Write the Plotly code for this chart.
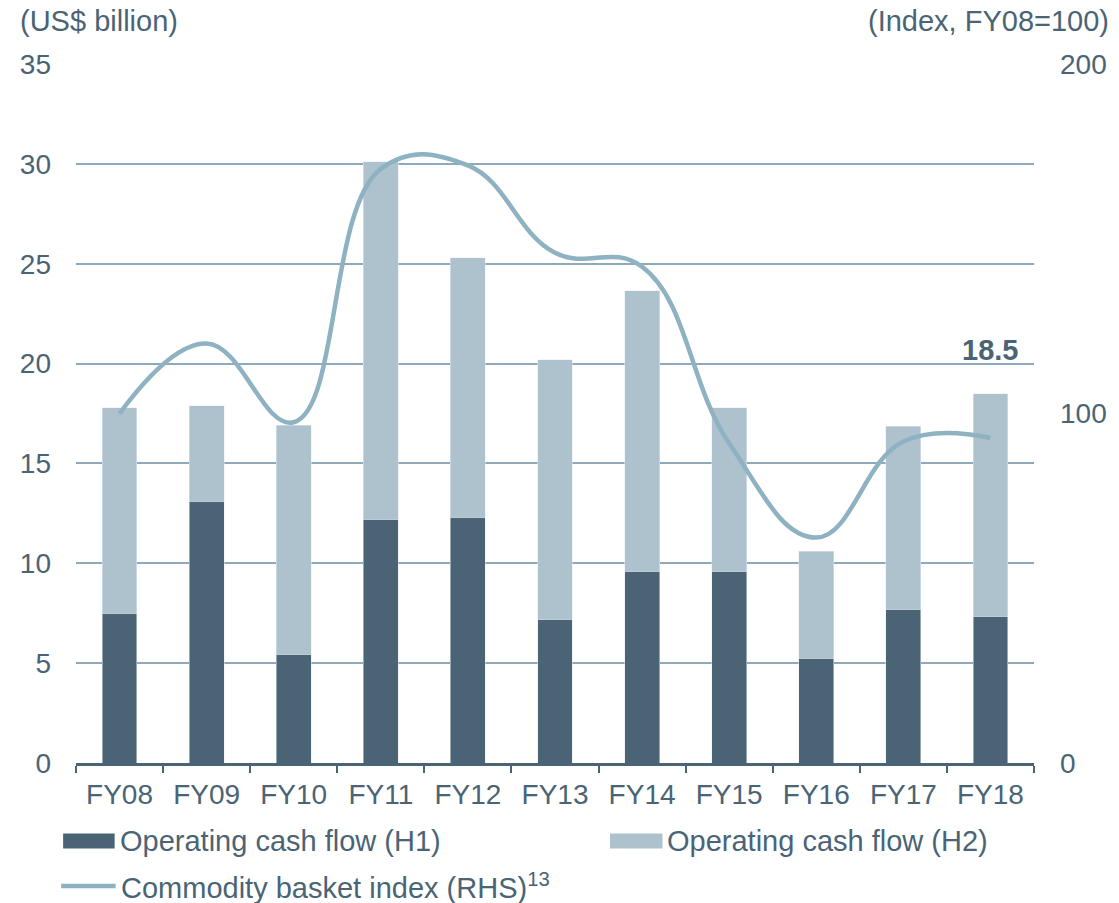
import plotly.graph_objects as go

# halaman HTML menambah margin body 8px, jadi koordinat referensi digeser
OFF = 8
W, H = 1119 - OFF, 903 - OFF
L, R, T, B = 70, 1037, 64, 763  # area plot (piksel referensi)

TAHUN = ["FY08", "FY09", "FY10", "FY11", "FY12", "FY13", "FY14", "FY15", "FY16", "FY17", "FY18"]
OCF_H1 = [7.5, 13.1, 5.45, 12.2, 12.3, 7.2, 9.6, 9.6, 5.25, 7.7, 7.35]
OCF_TOTAL = [17.8, 17.9, 16.9, 30.1, 25.3, 20.2, 23.65, 17.8, 10.6, 16.85, 18.5]
OCF_H2 = [round(t - h, 2) for t, h in zip(OCF_TOTAL, OCF_H1)]
INDEKS = [100, 120, 97.5, 170, 171, 146, 142, 91.5, 64.5, 92, 93]

GELAP = "#4a6475"
TERANG = "#aec2ce"
GARIS = "#8fb2c2"
GRID = "#8ea9b9"
TEKS = "#4a6475"
FONT = "Arial, Liberation Sans, sans-serif"
FS_TICK = 28
FS = 29


def px_x(x):
    return (x - L) / (R - L)


def px_y(y):
    return (B - y) / (B - T)


fig = go.Figure()
fig.add_trace(go.Bar(x=TAHUN, y=OCF_H1, marker_color=GELAP, width=0.4, name="Operating cash flow (H1)"))
fig.add_trace(go.Bar(x=TAHUN, y=OCF_H2, marker_color=TERANG, width=0.4, name="Operating cash flow (H2)"))
fig.add_trace(go.Scatter(
    x=TAHUN, y=INDEKS, yaxis="y2", mode="lines",
    line=dict(color=GARIS, width=4.5, shape="spline", smoothing=1.2),
    name="Commodity basket index (RHS)",
))

fig.update_layout(
    width=W, height=H, barmode="stack", showlegend=False,
    margin=dict(l=L - OFF, r=W - (R - OFF), t=T - OFF, b=H - (B - OFF)),
    paper_bgcolor="white", plot_bgcolor="white",
    font=dict(family=FONT, size=FS_TICK, color=TEKS),
    xaxis=dict(
        showline=True, linecolor=GELAP, linewidth=2.5, ticks="outside", tickson="boundaries",
        ticklen=7, tickwidth=2, tickcolor=GELAP, showgrid=False, ticklabelstandoff=5,
        tickfont=dict(size=FS_TICK, color=TEKS),
    ),
    yaxis=dict(
        range=[0, 35], dtick=5, showgrid=True, gridcolor=GRID, gridwidth=1.5, zeroline=False,
        showline=False, ticks="", ticklabelstandoff=24, tickfont=dict(size=FS_TICK, color=TEKS),
    ),
    yaxis2=dict(
        range=[0, 200], dtick=100, overlaying="y", side="right", showgrid=False, zeroline=False,
        showline=False, ticks="", ticklabelstandoff=25, tickfont=dict(size=FS_TICK, color=TEKS),
    ),
)

# judul sumbu
fig.add_annotation(text="(US$ billion)", xref="paper", yref="paper", x=px_x(12), y=px_y(21),
                   xanchor="left", yanchor="middle", showarrow=False, borderpad=0,
                   font=dict(size=FS, color=TEKS))
fig.add_annotation(text="(Index, FY08=100)", xref="paper", yref="paper", x=px_x(1114), y=px_y(21),
                   xanchor="right", yanchor="middle", showarrow=False, borderpad=0,
                   font=dict(size=FS, color=TEKS))

# label nilai FY18
fig.add_annotation(text="<b>18.5</b>", x=TAHUN[-1], y=OCF_TOTAL[-1], yanchor="bottom", yshift=26,
                   showarrow=False, font=dict(size=FS, color=TEKS))

# legenda manual
legend = [
    ("rect", GELAP, 57, 109, 841, "Operating cash flow (H1)"),
    ("rect", TERANG, 609, 662, 841, "Operating cash flow (H2)"),
    ("line", GARIS, 55, 110, 886, "Commodity basket index (RHS)<sup>13</sup>"),
]
for kind, color, x0, x1, yc, label in legend:
    if kind == "rect":
        fig.add_shape(type="rect", xref="paper", yref="paper", x0=px_x(x0), x1=px_x(x1),
                      y0=px_y(yc - 7.5), y1=px_y(yc + 7.5), fillcolor=color, line_width=0)
    else:
        fig.add_shape(type="line", xref="paper", yref="paper", x0=px_x(x0), x1=px_x(x1),
                      y0=px_y(yc), y1=px_y(yc), line=dict(color=color, width=4.5))
    fig.add_annotation(text=label, xref="paper", yref="paper", x=px_x(x1 + 3), y=px_y(yc),
                       xanchor="left", yanchor="middle", showarrow=False, font=dict(size=FS, color=TEKS))

fig.write_html("out.html")
